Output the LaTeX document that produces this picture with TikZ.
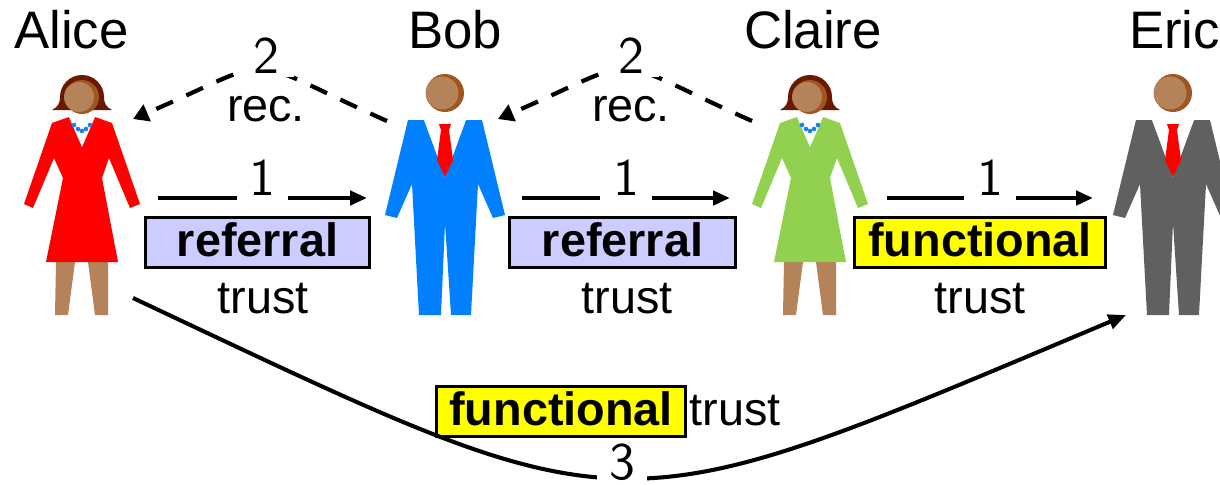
\documentclass[tikz,border=0pt]{standalone}
\usepackage{fontspec}
\setmainfont{Liberation Sans}
\usetikzlibrary{arrows.meta}

\definecolor{skin}{HTML}{B5835A}
\definecolor{skindark}{HTML}{A0561E}
\definecolor{hair}{HTML}{6B1800}
\definecolor{suitblue}{HTML}{0080FF}
\definecolor{suitgrey}{HTML}{606060}
\definecolor{dressred}{HTML}{FF0000}
\definecolor{dressgreen}{HTML}{92D050}
\definecolor{bead}{HTML}{1A7CFF}
\definecolor{refcol}{HTML}{CCCCFF}
\definecolor{funcol}{HTML}{FFFF00}

\tikzset{
  % woman: legs, dress, neckline with beads, hair and face
  woman/.pic={
    \fill[skin] (-26,262) -- (-7,262) -- (-14,315) -- (-27,315) -- cycle;
    \fill[skin] (6,262) -- (26,262) -- (26,315) -- (13,315) -- cycle;
    \fill[#1] (-30,123) -- (-13,117) -- (13,117) -- (30,123) -- (58,204) -- (48,208)
      -- (27,158) -- (20,178) -- (36,262) -- (-36,262) -- (-19,178) -- (-28,158)
      -- (-49,208) -- (-58,204) -- cycle;
    \fill[white] (-13,117) -- (13,117) -- (0,147) -- cycle;
    \foreach \bx/\by in {-8/125,-4/129,0/131,4/129,8/125}
      \fill[bead] (\bx,\by) circle[radius=2.3];
    \fill[hair] (-30,110) -- (30,110) .. controls (24,107) and (22,103) .. (22,97)
      arc[start angle=0, end angle=-180, radius=22]
      .. controls (-22,103) and (-24,107) .. (-30,110) -- cycle;
    \fill[skindark] (0,97) circle[radius=17];
    \fill[skin] (-3,97) circle[radius=15];
  },
  % man: suit, collar, tie and head
  man/.pic={
    \fill[#1] (-37,120) -- (37,120) -- (60,215) -- (48,218) -- (33,184) -- (26,315)
      -- (6,315) -- (0,223) -- (-4,315) -- (-26,315) -- (-33,184) -- (-48,218)
      -- (-60,215) -- cycle;
    \fill[white] (-21,120) -- (21,120) -- (0,177) -- cycle;
    \fill[red] (-6,124) -- (6,124) -- (4,130) -- (8,160) -- (0,177) -- (-8,160)
      -- (-4,130) -- cycle;
    \fill[skindark] (0,93) circle[radius=19];
    \fill[skin] (-3,93) circle[radius=16.5];
  },
}

\begin{document}
\begin{tikzpicture}[x=0.01cm, y=-0.01cm,
    person/.style={font=\fontsize{15}{18}\selectfont, anchor=base},
    word/.style={font=\fontsize{13.3}{16}\selectfont, anchor=base},
    kind/.style={draw, line width=1pt, font=\fontsize{13.3}{16}\selectfont\bfseries,
      text height=10pt, text depth=2.3pt, inner sep=0pt, minimum height=0.5cm},
    hop/.style={font=\sffamily\fontsize{15}{18}\selectfont, anchor=base, fill=white,
      inner xsep=0.13cm, inner ysep=0.06cm},
    flow/.style={line width=1.15pt, -{Triangle[length=4.8pt, width=4pt]}},
    rec/.style={line width=1.2pt, dash pattern=on 5.2pt off 4.2pt,
      -{Triangle[length=4.4pt, width=5pt]}}]

    \useasboundingbox (0,0) rectangle (1220,484);
    \clip (0,0) rectangle (1220,484);

    % the four people
    \pic at (82,0) {woman=dressred};
    \pic at (445,0) {man=suitblue};
    \pic at (810,0) {woman=dressgreen};
    \pic at (1173,0) {man=suitgrey};

    % names
    \node[person] (alice) at (71.5,48) {Alice};
    \node[person] (bob) at (455,48) {Bob};
    \node[person] (claire) at (813,48) {Claire};
    \node[person] (eric) at (1174.5,48) {Eric};

    % kinds of trust between neighbours
    \node[kind, fill=refcol, minimum width=2.24cm] (kab) at (257.5,242.5) {referral};
    \node[kind, fill=refcol, minimum width=2.26cm] (kbc) at (622.5,242.5) {referral};
    \node[kind, fill=funcol, minimum width=2.51cm] (kce) at (980,242.5) {functional};
    \node[word] (tab) at (263,313) {trust};
    \node[word] (tbc) at (627,313) {trust};
    \node[word] (tce) at (980,313) {trust};

    % step 1: trust handed along the chain
    \coordinate (ab1) at (158,198);
    \coordinate (ab2) at (367,198);
    \coordinate (bc1) at (522,198);
    \coordinate (bc2) at (730,198);
    \coordinate (ce1) at (887,198);
    \coordinate (ce2) at (1093,198);
    \draw[flow] (ab1) -- node[hop, yshift=0.03cm] {1} (ab2);
    \draw[flow] (bc1) -- node[hop, yshift=0.03cm] {1} (bc2);
    \draw[flow] (ce1) -- node[hop, yshift=0.03cm] {1} (ce2);

    % step 2: recommendations passed back
    \coordinate (rb) at (387,121);
    \coordinate (ra) at (133,119);
    \coordinate (rc) at (752,121);
    \coordinate (rbb) at (498,119);
    \draw[rec] (rb) .. controls (234,53) and (286,53) ..
      node[hop, pos=0.46, yshift=-0.03cm, inner xsep=0.15cm, inner ysep=0.04cm] {2} (ra);
    \draw[rec] (rc) .. controls (599,53) and (651,53) ..
      node[hop, pos=0.46, yshift=-0.03cm, inner xsep=0.15cm, inner ysep=0.04cm] {2} (rbb);
    \node[word] (rec1) at (266,121) {rec.};
    \node[word] (rec2) at (631,121) {rec.};

    % step 3: derived trust from Alice to Eric
    \node[kind, fill=funcol, minimum width=2.49cm] (kae) at (561,411.5) {functional};
    \node[word] (tae) at (735,425) {trust};
    \coordinate (ae1) at (133,298);
    \coordinate (ae2) at (1126,315);
    \draw[line width=1.15pt, -{Triangle[length=5pt, width=4.2pt]}] (ae1)
      .. controls (637,535) and (602,535) ..
      node[hop, yshift=-0.015cm, inner xsep=0.12cm, inner ysep=0.05cm] {3} (ae2);

\end{tikzpicture}
\end{document}
